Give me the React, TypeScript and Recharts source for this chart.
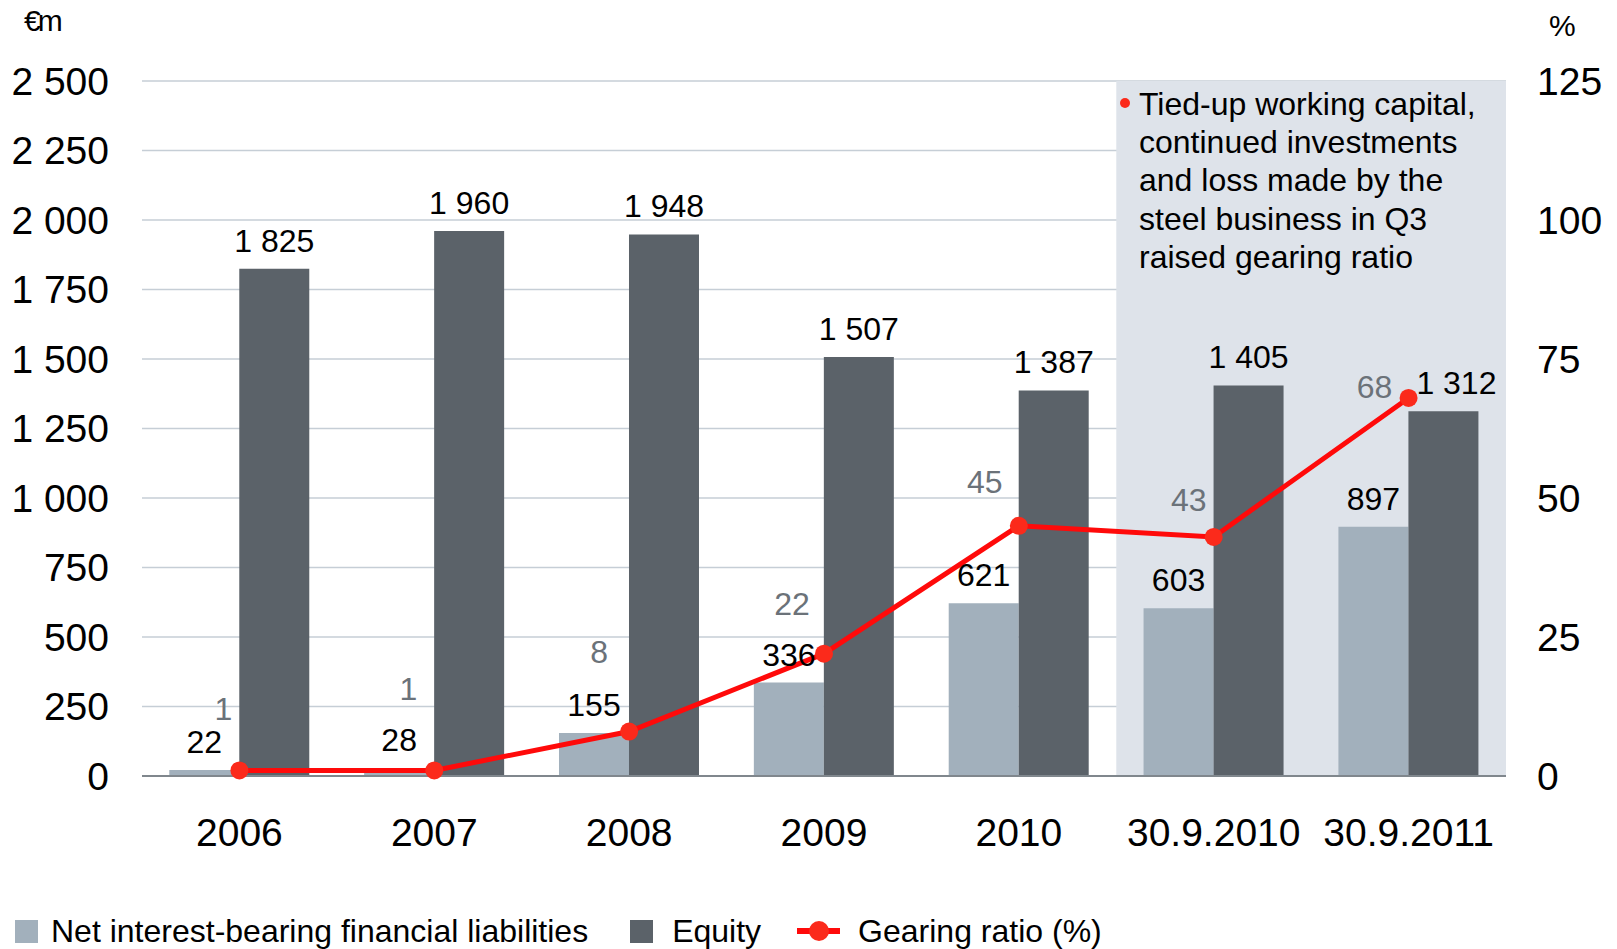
import React from "react";
import {
  ComposedChart,
  Bar,
  Line,
  XAxis,
  YAxis,
  CartesianGrid,
  ReferenceArea,
  LabelList,
} from "recharts";

// --- data ---
const periods = ["2006", "2007", "2008", "2009", "2010", "30.9.2010", "30.9.2011"];
const netDebt = [22, 28, 155, 336, 621, 603, 897];
const equity = [1825, 1960, 1948, 1507, 1387, 1405, 1312];
const gearing = [1, 1, 8, 22, 45, 43, 68];

const leftTicks = [0, 250, 500, 750, 1000, 1250, 1500, 1750, 2000, 2250, 2500];
const rightTicks = [0, 25, 50, 75, 100, 125];

const noteLines = [
  "Tied-up working capital,",
  "continued investments",
  "and loss made by the",
  "steel business in Q3",
  "raised gearing ratio",
];

// hand placement of the gearing labels, relative to each point (like the original)
const gearingLabelShift = [
  [-16, -62],
  [-26, -82],
  [-30, -80],
  [-32, -50],
  [-34, -44],
  [-25, -37],
  [-34, -11],
];

const LIGHT = "#a2b0bc";
const DARK = "#5b6269";
const RED = "#ff0a0a";
const DOT = "#fb2a1b";
const FONT = "'Liberation Sans', Arial, sans-serif";

const chartData = periods.map((p, i) => ({
  period: p,
  netDebt: netDebt[i],
  equity: equity[i],
  gearing: gearing[i],
}));

// thousands with a space: 1 825
const fmt = (v: any) => String(v).replace(/\B(?=(\d{3})+(?!\d))/g, " ");

const GearingLabel = (props: any) => {
  const { x, y, value, index } = props;
  const [dx, dy] = gearingLabelShift[index] || [-30, -50];
  return (
    <text
      x={x + dx}
      y={y + dy + 11.5}
      textAnchor="middle"
      fontSize={32}
      fill="#6b7279"
      fontFamily={FONT}
    >
      {value}
    </text>
  );
};

// equity value above the bar; the last one steps right to clear the red dot
const EquityLabel = (props: any) => {
  const { x, y, width, value, index } = props;
  const shift = index === periods.length - 1 ? 13 : 0;
  return (
    <text
      x={x + width / 2 + shift}
      y={y - 17}
      textAnchor="middle"
      fontSize={32}
      fill="#000"
      fontFamily={FONT}
    >
      {fmt(value)}
    </text>
  );
};

const App = () => {
  return (
    <div
      style={{
        position: "absolute",
        left: 0,
        top: 0,
        width: 1617,
        height: 949,
        background: "#fff",
        fontFamily: FONT,
        overflow: "hidden",
      }}
    >
      <ComposedChart
        width={1617}
        height={949}
        data={chartData}
        margin={{ top: 81, right: 0, bottom: 113, left: 0 }}
        barCategoryGap="14%"
        barGap={0}
      >
        <ReferenceArea
          yAxisId="left"
          x1="30.9.2010"
          x2="30.9.2011"
          fill="#dee3ea"
          fillOpacity={1}
          stroke="none"
          ifOverflow="visible"
        />
        <CartesianGrid
          yAxisId="left"
          vertical={false}
          stroke="#c6ced6"
          strokeWidth={1.5}
        />
        <XAxis
          dataKey="period"
          height={60}
          tickSize={0}
          tickMargin={42}
          axisLine={{ stroke: "#80878d", strokeWidth: 2 }}
          tickLine={false}
          tick={{ fontSize: 39, fill: "#000", fontFamily: FONT }}
        />
        <YAxis
          yAxisId="left"
          orientation="left"
          width={142}
          domain={[0, 2500]}
          ticks={leftTicks}
          tickFormatter={fmt}
          axisLine={false}
          tickLine={false}
          tickSize={0}
          tickMargin={33}
          tick={{ fontSize: 39, fill: "#000", fontFamily: FONT }}
        />
        <YAxis
          yAxisId="right"
          orientation="right"
          width={111}
          domain={[0, 125]}
          ticks={rightTicks}
          axisLine={false}
          tickLine={false}
          tickSize={0}
          tickMargin={31}
          tick={{ fontSize: 39, fill: "#000", fontFamily: FONT }}
        />
        <Bar yAxisId="left" dataKey="netDebt" fill={LIGHT} isAnimationActive={false}>
          <LabelList
            dataKey="netDebt"
            position="top"
            offset={17}
            formatter={fmt}
            fontSize={32}
            fill="#000"
            fontFamily={FONT}
          />
        </Bar>
        <Bar yAxisId="left" dataKey="equity" fill={DARK} isAnimationActive={false}>
          <LabelList dataKey="equity" content={EquityLabel} />
        </Bar>
        <Line
          yAxisId="right"
          type="linear"
          dataKey="gearing"
          stroke={RED}
          strokeWidth={5}
          dot={{ r: 9, fill: DOT, stroke: DOT, strokeWidth: 0 }}
          activeDot={false}
          isAnimationActive={false}
        >
          <LabelList dataKey="gearing" content={GearingLabel} />
        </Line>
      </ComposedChart>

      {/* unit captions */}
      <div style={{ position: "absolute", left: 24, top: 4, fontSize: 30, letterSpacing: -3 }}>
        €m
      </div>
      <div style={{ position: "absolute", left: 1549, top: 9, fontSize: 30 }}>%</div>

      {/* note inside the shaded area */}
      <div
        style={{
          position: "absolute",
          left: 1120,
          top: 98,
          width: 10,
          height: 10,
          borderRadius: 5,
          background: DOT,
        }}
      />
      <div
        style={{
          position: "absolute",
          left: 1139,
          top: 85,
          fontSize: 32,
          lineHeight: "38.2px",
          color: "#000",
          whiteSpace: "nowrap",
        }}
      >
        {noteLines.map((l) => (
          <div key={l}>{l}</div>
        ))}
      </div>

      {/* legend */}
      <div
        style={{
          position: "absolute",
          left: 15,
          top: 912,
          height: 38,
          display: "flex",
          alignItems: "center",
          fontSize: 32,
          color: "#000",
          whiteSpace: "nowrap",
        }}
      >
        <span style={{ width: 23, height: 23, background: LIGHT, display: "inline-block" }} />
        <span style={{ marginLeft: 13 }}>Net interest-bearing financial liabilities</span>
        <span
          style={{ width: 23, height: 23, background: DARK, display: "inline-block", marginLeft: 42 }}
        />
        <span style={{ marginLeft: 19 }}>Equity</span>
        <span
          style={{
            position: "relative",
            width: 43,
            height: 20,
            display: "inline-block",
            marginLeft: 36,
          }}
        >
          <span
            style={{
              position: "absolute",
              left: 0,
              top: 7,
              width: 43,
              height: 6,
              background: RED,
            }}
          />
          <span
            style={{
              position: "absolute",
              left: 12,
              top: 0,
              width: 20,
              height: 20,
              borderRadius: 10,
              background: DOT,
            }}
          />
        </span>
        <span style={{ marginLeft: 18 }}>Gearing ratio (%)</span>
      </div>
    </div>
  );
};

export default App;
